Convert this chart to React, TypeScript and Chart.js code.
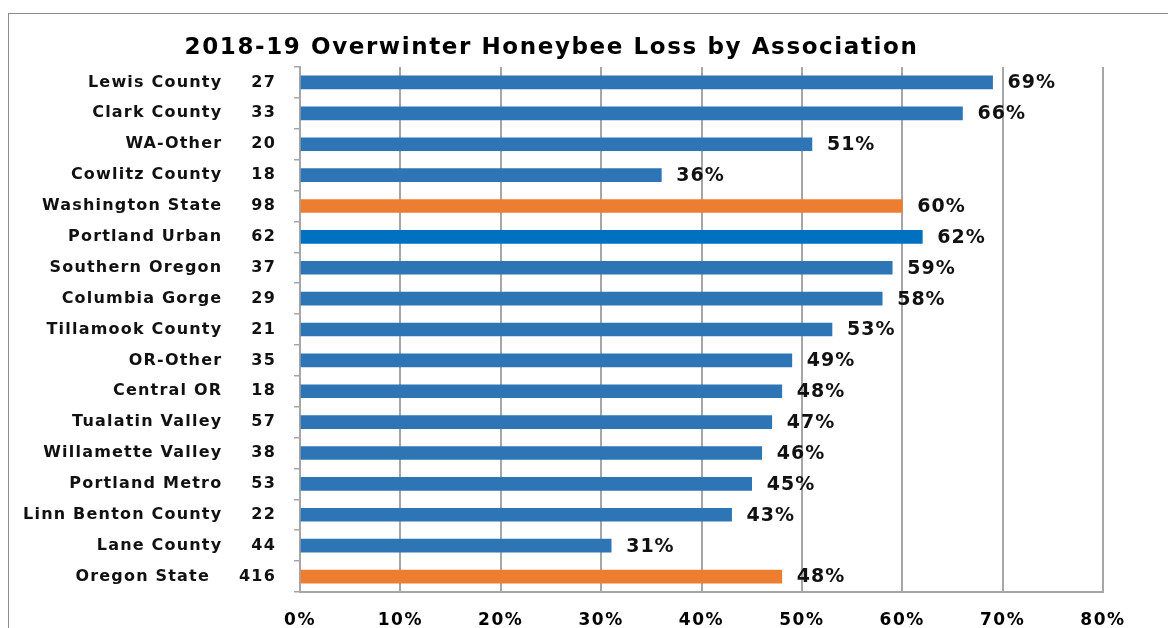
import React, { useEffect, useRef } from 'react';
import { Chart, registerables } from 'chart.js';

Chart.register(...registerables);

const TITLE = '2018-19 Overwinter Honeybee Loss by Association';

const associations = [
  'Lewis County',
  'Clark County',
  'WA-Other',
  'Cowlitz County',
  'Washington State',
  'Portland Urban',
  'Southern Oregon',
  'Columbia Gorge',
  'Tillamook County',
  'OR-Other',
  'Central OR',
  'Tualatin Valley',
  'Willamette Valley',
  'Portland Metro',
  'Linn Benton County',
  'Lane County',
  'Oregon State',
];

const respondents = [27, 33, 20, 18, 98, 62, 37, 29, 21, 35, 18, 57, 38, 53, 22, 44, 416];

const lossPercent = [69, 66, 51, 36, 60, 62, 59, 58, 53, 49, 48, 47, 46, 45, 43, 31, 48];

const stateTotals = ['Washington State', 'Oregon State'];
const highlighted = ['Portland Urban'];

const X_MIN = 0;
const X_MAX = 80;
const X_STEP = 10;

const FONT = '"DejaVu Sans", Verdana, sans-serif';
const BLUE = '#2E75B6';
const DARK_BLUE = '#0070C0';
const ORANGE = '#ED7D31';
const GRID = '#a6a6a6';

const colorFor = (name: string) =>
  stateTotals.includes(name) ? ORANGE : highlighted.includes(name) ? DARK_BLUE : BLUE;

const framePlugin = {
  id: 'frame',
  beforeDraw(chart: any) {
    const ctx = chart.ctx;
    ctx.save();
    ctx.fillStyle = '#ffffff';
    ctx.fillRect(0, 0, chart.width, chart.height);
    ctx.strokeStyle = '#8c8c8c';
    ctx.lineWidth = 1;
    ctx.strokeRect(8.5, 13.5, 1400, 900);
    ctx.restore();
    (ctx as any).letterSpacing = '1.6px';
  },
};

const labelsPlugin = {
  id: 'rowLabels',
  afterDraw(chart: any) {
    const ctx = chart.ctx;
    const yScale = chart.scales.y;
    ctx.save();
    ctx.font = `bold 16px ${FONT}`;
    ctx.fillStyle = '#111111';
    ctx.textAlign = 'right';
    ctx.textBaseline = 'middle';
    (ctx as any).letterSpacing = '1.2px';
    associations.forEach((name, i) => {
      const y = yScale.getPixelForValue(i);
      const count = String(respondents[i]);
      ctx.fillText(count, 276, y);
      const w = ctx.measureText(count).width;
      ctx.fillText(name, 276 - w - 29, y);
    });
    // value labels
    ctx.font = `bold 19px ${FONT}`;
    ctx.textAlign = 'left';
    (ctx as any).letterSpacing = '1px';
    const meta = chart.getDatasetMeta(0);
    meta.data.forEach((bar: any, i: number) => {
      ctx.fillText(lossPercent[i] + '%', bar.x + 15, bar.y + 1);
    });
    ctx.restore();
    (ctx as any).letterSpacing = '0px';
  },
};

export default function App() {
  const ref = useRef<HTMLCanvasElement | null>(null);

  useEffect(() => {
    document.documentElement.style.overflow = 'hidden';
    const canvas = ref.current;
    if (!canvas) return;
    const chart = new Chart(canvas, {
      type: 'bar',
      data: {
        labels: associations,
        datasets: [
          {
            data: lossPercent,
            backgroundColor: associations.map(colorFor),
            barThickness: 13,
          },
        ],
      },
      options: {
        indexAxis: 'y',
        animation: false,
        responsive: false,
        devicePixelRatio: 1,
        layout: { padding: { left: 0, right: 65, top: 0, bottom: 0 } },
        plugins: {
          legend: { display: false },
          tooltip: { enabled: false },
          title: {
            display: true,
            text: TITLE,
            color: '#000000',
            font: { family: FONT, size: 23, weight: 'bold' },
            padding: { top: 34, bottom: 5.4 },
          },
        },
        scales: {
          x: {
            min: X_MIN,
            max: X_MAX,
            ticks: {
              stepSize: X_STEP,
              callback: (v: any) => v + '%',
              color: '#000000',
              font: { family: FONT, size: 17, weight: 'bold' },
              padding: 18,
              maxRotation: 0,
            },
            grid: { color: GRID, lineWidth: 2, drawTicks: false },
            border: { color: GRID, width: 2 },
            afterFit: (s: any) => {
              s.height = 36;
            },
          },
          y: {
            ticks: { display: false },
            grid: {
              offset: true,
              drawOnChartArea: false,
              drawTicks: true,
              tickLength: 6,
              color: GRID,
              lineWidth: 1.5,
            },
            border: { color: GRID, width: 2 },
            afterFit: (s: any) => {
              s.width = 300;
            },
          },
        },
      } as any,
      plugins: [framePlugin, labelsPlugin],
    });
    return () => chart.destroy();
  }, []);

  return (
    <div style={{ position: 'fixed', left: 0, top: 0, width: 1168, height: 628 }}>
      <canvas ref={ref} width={1168} height={628} style={{ display: 'block' }} />
    </div>
  );
}
